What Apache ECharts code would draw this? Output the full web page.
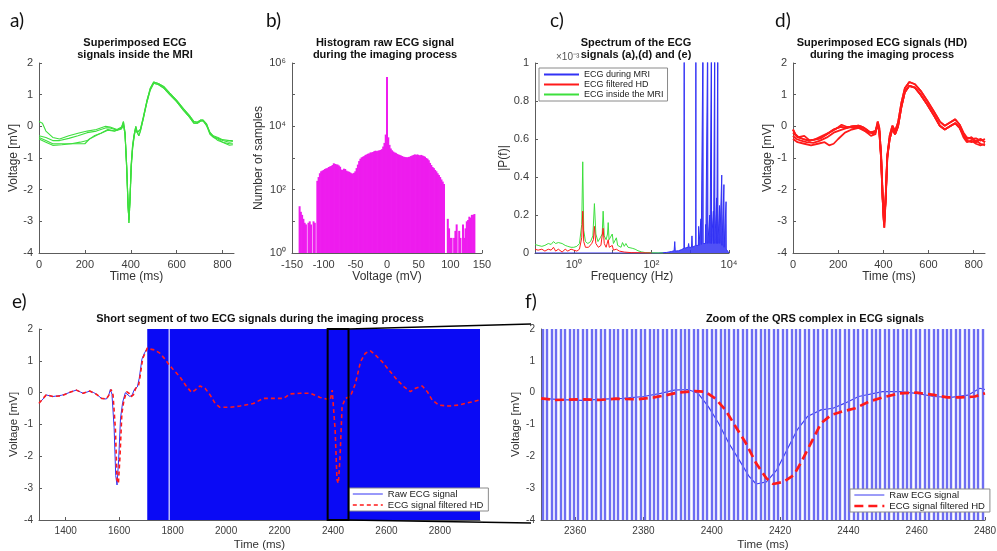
<!DOCTYPE html>
<html>
<head>
<meta charset="utf-8">
<title>ECG during MRI</title>
<script src="https://cdn.jsdelivr.net/npm/echarts@6/dist/echarts.min.js"></script>
<style>
  html, body { margin: 0; padding: 0; background: #fff; }
  #chart { width: 997px; height: 551px; }
</style>
</head>
<body>
<div id="chart"></div>
<script>
// ---------- values ----------

// a) superimposed beats inside the MRI (time ms, voltage mV)
const aBase1 = [[0,0.15],[15,0.1],[30,-0.15],[60,-0.35],[90,-0.4],[130,-0.3],[170,-0.22],[210,-0.15],[250,-0.1],[290,0.0],[310,-0.02],[340,-0.1],[360,-0.02]];
const aBase2 = [[0,-0.3],[30,-0.35],[60,-0.45],[90,-0.45],[130,-0.38],[170,-0.3],[210,-0.2],[250,-0.15],[290,-0.05],[310,-0.05],[340,-0.12],[360,-0.05]];
const aBase3 = [[0,-0.35],[30,-0.45],[60,-0.55],[100,-0.55],[140,-0.55],[180,-0.5],[210,-0.45],[240,-0.3],[270,-0.22],[300,-0.1],[330,-0.15],[360,-0.05]];
const aBase4 = [[0,-0.4],[30,-0.5],[60,-0.6],[100,-0.58],[140,-0.55],[180,-0.55],[200,-0.55],[220,-0.4],[260,-0.25],[300,-0.12],[330,-0.15],[360,-0.08]];
const aComplex1 = [[368,0.15],[375,-0.2],[382,-1.2],[388,-2.4],[392,-3.05],[397,-2.3],[402,-1.3],[408,-0.7],[415,-0.3],[422,-0.05],[428,-0.2],[435,-0.25],[442,-0.1],[455,0.3],[470,0.8],[485,1.2],[500,1.4],[520,1.35],[545,1.25],[570,1.05],[600,0.82],[630,0.55],[655,0.35],[675,0.15],[690,0.13],[705,0.2],[715,0.2],[730,0.08]];
const aComplex2 = [[368,0.05],[375,-0.25],[382,-1.3],[388,-2.5],[392,-2.95],[397,-2.2],[402,-1.2],[408,-0.6],[415,-0.25],[422,0.0],[428,-0.18],[435,-0.3],[442,-0.15],[455,0.25],[470,0.75],[485,1.15],[500,1.36],[520,1.32],[545,1.2],[570,1.0],[600,0.78],[630,0.5],[655,0.3],[675,0.1],[690,0.1],[705,0.17],[715,0.18],[730,0.03]];
const aTail1 = [[745,-0.2],[760,-0.3],[780,-0.35],[800,-0.42],[830,-0.45],[845,-0.45]];
const aTail2 = [[745,-0.25],[760,-0.35],[780,-0.4],[800,-0.5],[830,-0.55],[845,-0.55]];
const aTail3 = [[745,-0.22],[760,-0.33],[780,-0.45],[800,-0.5],[830,-0.6],[845,-0.58]];
const aTail4 = [[745,-0.18],[760,-0.32],[780,-0.38],[800,-0.45],[830,-0.5],[845,-0.48]];

// b) histogram of the raw signal, 2 mV bins starting at -138 mV
const histStart = -138;
const histBin = 2;
const histCounts = [
  30,20,16,12,9,8,0,9,10,8,0,10,9,0,
  190,250,330,380,400,420,450,470,480,520,540,560,600,680,650,630,620,580,530,430,
  420,460,450,400,380,370,350,330,320,340,380,480,620,800,950,1050,1100,1150,1250,1300,
  1350,1400,1500,1500,1550,1650,1700,1650,1700,1750,1800,1900,2300,3000,5500,
  360000,
  4500,2600,2000,1750,1600,1500,1450,1350,1300,1250,1200,1150,1100,1080,1050,1050,1080,
  1100,1150,1200,1250,1300,1250,1300,1250,1200,1250,1200,1150,1100,1000,950,850,700,
  600,520,480,420,380,330,290,250,210,180,150,
  0,0,12,6,3,3,0,3,5,8,0,5,3,0,8,3,6,10,11,14,13,16,16,17
];

// c) spectra, [frequency Hz, |P(f)| x 1e-3]
const spectrumMri = [[0.1,0],[150,0],[250,0.003],[330,0.008],[385,0.012],[400,0.06],[412,0.01],[500,0.012],[600,0.018],[690,0.025],[700,1.2],[710,0.025],[880,0.03],[910,0.05],[940,0.03],[1080,0.03],[1110,0.09],[1140,0.03],[1390,0.04],[1400,1.2],[1410,0.04],[1620,0.04],[1650,0.14],[1680,0.04],[1850,0.045],[1890,0.18],[1930,0.045],[2120,0.045],[2140,1.2],[2160,0.05],[2450,0.05],[2490,0.15],[2530,0.05],[2810,0.05],[2830,1.2],[2850,0.05],[3150,0.05],[3200,0.2],[3250,0.05],[3510,0.05],[3530,1.2],[3550,0.05],[3900,0.05],[3950,0.22],[4000,0.05],[4280,0.05],[4300,1.2],[4320,0.05],[4750,0.05],[4800,0.29],[4850,0.05],[5130,0.05],[5150,1.2],[5180,0.05],[5600,0.05],[5700,0.25],[5800,0.05],[6400,0.045],[6500,0.41],[6600,0.04],[7300,0.035],[7400,0.36],[7500,0.03],[8300,0.02],[8400,0.27],[8500,0.02],[9000,0.01],[10000,0]];
const spectrumFiltered = [[0.1,0.02],[0.12,0.015],[0.15,0.02],[0.18,0.01],[0.22,0.02],[0.26,0.015],[0.3,0.03],[0.34,0.01],[0.4,0.02],[0.45,0.025],[0.5,0.005],[0.6,0.02],[0.7,0.01],[0.85,0.02],[1.0,0.015],[1.2,0.01],[1.4,0.02],[1.6,0.08],[1.7,0.22],[1.8,0.06],[2.0,0.03],[2.4,0.03],[2.9,0.05],[3.2,0.07],[3.4,0.14],[3.7,0.05],[4.3,0.03],[5.0,0.04],[5.4,0.05],[5.7,0.13],[6.1,0.05],[6.8,0.03],[7.7,0.07],[8.2,0.03],[9.8,0.04],[10.5,0.015],[12.5,0.02],[15,0.01],[20,0.005],[30,0.002],[60,0.001],[100,0]];
const spectrumInside = [[0.1,0.045],[0.12,0.04],[0.15,0.035],[0.18,0.04],[0.22,0.05],[0.26,0.045],[0.3,0.06],[0.34,0.05],[0.4,0.055],[0.45,0.065],[0.5,0.05],[0.6,0.04],[0.7,0.035],[0.85,0.03],[1.0,0.03],[1.2,0.035],[1.4,0.05],[1.6,0.15],[1.7,0.48],[1.8,0.12],[2.0,0.06],[2.3,0.05],[2.7,0.06],[3.1,0.09],[3.4,0.26],[3.7,0.1],[4.2,0.06],[4.8,0.08],[5.4,0.1],[5.7,0.22],[6.1,0.09],[6.8,0.07],[7.4,0.1],[7.7,0.16],[8.1,0.07],[9.0,0.06],[9.8,0.1],[10.5,0.05],[11.5,0.06],[12.5,0.08],[13.5,0.04],[15,0.05],[16.5,0.03],[18,0.055],[20,0.035],[22,0.05],[25,0.03],[28,0.04],[32,0.025],[38,0.02],[45,0.012],[55,0.006],[70,0.002],[100,0.001],[200,0]];

// d) superimposed HD filtered beats
const dBase1 = [[0,-0.1],[10,-0.25],[25,-0.35],[45,-0.4],[70,-0.45],[95,-0.42],[120,-0.38],[150,-0.25],[180,-0.1],[210,-0.02],[235,-0.05],[260,0.0],[290,0.02],[315,-0.05],[340,-0.2],[365,-0.15]];
const dBase2 = [[0,-0.3],[15,-0.4],[35,-0.45],[60,-0.5],[90,-0.52],[120,-0.45],[150,-0.35],[180,-0.2],[210,-0.12],[240,-0.05],[270,0.0],[300,-0.05],[330,-0.2],[365,-0.2]];
const dBase3 = [[0,-0.4],[20,-0.5],[50,-0.55],[80,-0.6],[110,-0.55],[140,-0.5],[160,-0.6],[180,-0.55],[200,-0.4],[230,-0.2],[260,-0.1],[290,-0.05],[320,-0.15],[345,-0.3],[365,-0.25]];
const dBase4 = [[0,-0.2],[20,-0.35],[50,-0.3],[75,-0.45],[100,-0.4],[130,-0.3],[160,-0.2],[190,-0.08],[215,0.05],[240,-0.02],[270,-0.05],[300,0.0],[330,-0.12],[355,-0.25],[365,-0.15]];
const dComplex1 = [[375,0.15],[382,-0.05],[390,-0.9],[397,-2.2],[404,-3.2],[411,-2.2],[418,-0.9],[428,-0.3],[440,0.02],[452,-0.15],[465,0.12],[480,0.75],[495,1.2],[515,1.4],[540,1.33],[565,1.12],[595,0.8],[625,0.45],[650,0.15],[672,0.02],[695,0.12],[718,0.22],[738,0.05]];
const dComplex2 = [[375,0.05],[382,-0.15],[390,-1.0],[397,-2.3],[403,-3.1],[410,-2.3],[417,-1.0],[428,-0.4],[440,-0.08],[452,-0.25],[465,0.0],[480,0.62],[495,1.08],[515,1.28],[540,1.22],[565,1.0],[595,0.68],[625,0.33],[650,0.02],[672,-0.1],[695,0.0],[718,0.1],[738,-0.05]];
const dTail1 = [[755,-0.2],[770,-0.35],[790,-0.4],[810,-0.38],[830,-0.45],[850,-0.4]];
const dTail2 = [[755,-0.3],[770,-0.45],[790,-0.5],[810,-0.45],[830,-0.55],[850,-0.6]];
const dTail3 = [[755,-0.25],[770,-0.4],[790,-0.35],[810,-0.5],[830,-0.4],[850,-0.5]];
const dTail4 = [[755,-0.35],[770,-0.5],[790,-0.45],[810,-0.55],[830,-0.6],[850,-0.55]];

// e) raw signal before saturation, HD filtered signal, saturated spans
const eRaw = [[1300,-0.33],[1315,-0.2],[1327,-0.07],[1340,-0.1],[1352,-0.12],[1370,-0.1],[1385,-0.08],[1400,-0.04],[1421,0.03],[1440,0.08],[1455,0.02],[1465,-0.02],[1480,0.02],[1490,0.05],[1505,0.0],[1515,-0.05],[1534,-0.18],[1552,-0.2],[1560,-0.1],[1567,0.1],[1573,-0.05],[1581,-1.1],[1587,-2.6],[1592,-2.9],[1598,-2.1],[1605,-0.8],[1613,-0.3],[1623,0.0],[1630,0.02],[1640,-0.12],[1648,-0.08],[1658,0.12],[1668,0.18],[1675,0.45],[1685,1.05],[1695,1.25],[1704,1.38]];
const eFiltered = [[1300,-0.33],[1327,-0.07],[1352,-0.12],[1384,-0.1],[1421,0.03],[1440,0.08],[1465,-0.02],[1490,0.05],[1515,-0.05],[1534,-0.18],[1552,-0.2],[1562,-0.07],[1570,0.1],[1577,-0.07],[1586,-1.17],[1592,-2.74],[1597,-2.85],[1603,-2.0],[1610,-0.65],[1618,-0.23],[1628,0.03],[1637,-0.02],[1645,-0.12],[1653,-0.07],[1662,0.14],[1672,0.2],[1678,0.5],[1688,1.08],[1697,1.24],[1705,1.4],[1715,1.37],[1734,1.34],[1752,1.24],[1771,1.06],[1787,0.87],[1802,0.73],[1827,0.5],[1852,0.19],[1871,0.01],[1884,0.08],[1902,0.21],[1921,0.14],[1940,-0.07],[1959,-0.34],[1977,-0.46],[2015,-0.46],[2052,-0.42],[2102,-0.34],[2140,-0.18],[2177,-0.18],[2215,-0.18],[2240,-0.04],[2277,-0.02],[2315,-0.02],[2352,-0.15],[2390,-0.23],[2397,0.08],[2408,-1.17],[2415,-2.74],[2420,-2.85],[2426,-2.1],[2434,-0.44],[2446,-0.18],[2465,-0.12],[2484,0.29],[2503,0.97],[2521,1.24],[2540,1.31],[2559,1.18],[2584,0.97],[2609,0.71],[2640,0.4],[2665,0.19],[2690,0.03],[2709,0.14],[2734,0.21],[2753,0.03],[2771,-0.23],[2796,-0.39],[2834,-0.42],[2871,-0.39],[2909,-0.31],[2950,-0.23]];
const eSaturated = [[1705, 1785], [1789, 2950]];
const zoomWindow = [2380, 2458];

// f) zoom on the QRS complex
const fRaw = [[2350,-0.18],[2356,-0.22],[2362,-0.24],[2368,-0.2],[2374,-0.18],[2380,-0.12],[2385,-0.02],[2389,0.08],[2393,0.1],[2396,-0.02],[2399,-0.44],[2402,-0.96],[2405,-1.59],[2408,-2.11],[2411,-2.64],[2413,-2.87],[2416,-2.8],[2419,-2.43],[2422,-1.8],[2425,-1.17],[2428,-0.75],[2432,-0.54],[2435.5,-0.49],[2439,-0.33],[2443,-0.12],[2450,0.03],[2455,0.03],[2460,-0.02],[2465,-0.12],[2470,-0.15],[2475,-0.08],[2478.5,0.14],[2480,0.1]];
const fFiltered = [[2350,-0.18],[2354,-0.23],[2362,-0.21],[2367,-0.23],[2372,-0.19],[2378,-0.21],[2383,-0.15],[2387,-0.07],[2390,0.0],[2395,0.05],[2398,0.03],[2401,-0.18],[2404,-0.54],[2407,-1.07],[2410,-1.59],[2413,-2.22],[2416,-2.69],[2418,-2.87],[2421,-2.8],[2424,-2.59],[2426,-2.22],[2429,-1.59],[2432,-0.96],[2435,-0.7],[2438,-0.6],[2442,-0.49],[2446,-0.28],[2450,-0.15],[2455,-0.02],[2460,0.0],[2465,-0.07],[2469,-0.15],[2473,-0.15],[2477,-0.12],[2480,-0.02]];
// gradient artefact spikes in the raw signal (ms)
const spikeTimes = [
  2350.5,2351.8,2353.1,2354.4,2355.7,2357.0,2358.3,2359.6,2360.9,2362.2,
  2363.5,2364.8,2366.1,2367.4,2368.7,2370.0,2371.3,2372.6,2373.9,2375.2,
  2376.5,2377.8,2379.1,2380.4,2381.7,2383.0,2384.3,2385.6,2386.9,2388.2,
  2389.5,2390.8,2392.1,2393.4,2394.7,2396.0,2397.3,2398.6,2399.9,2401.2,
  2402.5,2403.8,2405.1,2406.4,2407.7,2409.0,2410.3,2411.6,2412.9,2414.2,
  2415.5,2416.8,2418.1,2419.4,2420.7,2422.0,2423.3,2424.6,2425.9,2427.2,
  2428.5,2429.8,2431.1,2432.4,2433.7,2435.0,2436.3,2437.6,2438.9,2440.2,
  2441.5,2442.8,2444.1,2445.4,2446.7,2448.0,2449.3,2450.6,2451.9,2453.2,
  2454.5,2455.8,2457.1,2458.4,2459.7,2461.0,2462.3,2463.6,2464.9,2466.2,
  2467.5,2468.8,2470.1,2471.4,2472.7,2474.0,2475.3,2476.6,2477.9,2479.2
];

// ---------- chart ----------
const chart = echarts.init(document.getElementById('chart'));

const SUP = { '-': '\u207B', '0': '\u2070', '1': '\u00B9', '2': '\u00B2', '3': '\u00B3', '4': '\u2074', '5': '\u2075', '6': '\u2076' };
function powerLabel(v) {
  const e = Math.round(Math.log10(v));
  if (e % 2 !== 0) return '';
  return '10' + String(e).split('').map(c => SUP[c]).join('');
}
const plain = v => String(v);

function axis(gridIndex, opts) {
  const o = opts || {};
  return Object.assign({
    gridIndex: gridIndex,
    type: 'value',
    nameLocation: 'middle',
    nameTextStyle: { color: '#333', fontSize: 12 },
    splitLine: { show: false },
  }, o, {
    axisLine: Object.assign({ onZero: false, lineStyle: { color: '#5c5c5c', width: 1 } }, o.axisLine),
    axisTick: Object.assign({ inside: true, length: 3, lineStyle: { color: '#5c5c5c' } }, o.axisTick),
    axisLabel: Object.assign({ color: '#3c3c3c', fontSize: 11, margin: 6 }, o.axisLabel),
  });
}

function line(idx, data, color, width, extra) {
  return Object.assign({
    type: 'line', xAxisIndex: idx, yAxisIndex: idx, data: data,
    symbol: 'none', showSymbol: false, animation: false, silent: true,
    lineStyle: { color: color, width: width }, itemStyle: { color: color },
  }, extra);
}

const GREEN = '#3ddf3d', RED = '#ff1a1a', BLUE = '#3232f5', MAGENTA = '#ee1cee';

const aBeats = [
  [].concat(aBase1, aComplex1, aTail1),
  [].concat(aBase2, aComplex2, aTail2),
  [].concat(aBase3, aComplex1, aTail3),
  [].concat(aBase4, aComplex2, aTail4),
];
const dBeats = [
  [].concat(dBase1, dComplex1, dTail1),
  [].concat(dBase2, dComplex2, dTail2),
  [].concat(dBase3, dComplex1, dTail3),
  [].concat(dBase4, dComplex2, dTail4),
  [].concat(dBase1, dComplex2, dTail3),
];
const histData = histCounts.map((c, i) => [histStart + i * histBin, c > 0 ? c : null]);

const series = [];
aBeats.forEach(b => series.push(line(0, b, GREEN, 1.1)));
series.push({
  type: 'bar', xAxisIndex: 1, yAxisIndex: 1, data: histData, barWidth: 2,
  itemStyle: { color: MAGENTA }, animation: false, silent: true,
});
series.push(line(2, spectrumMri, BLUE, 1, { name: 'ECG during MRI', areaStyle: { color: BLUE, opacity: 0.85 } }));
series.push(line(2, spectrumInside, GREEN, 1, { name: 'ECG inside the MRI' }));
series.push(line(2, spectrumFiltered, RED, 1, { name: 'ECG filtered HD' }));
dBeats.forEach(b => series.push(line(3, b, RED, 1.8)));
series.push(line(4, eRaw, BLUE, 1, {
  name: 'Raw ECG signal',
  markArea: {
    silent: true, animation: false,
    itemStyle: { color: '#0a0af5', opacity: 1 },
    data: eSaturated.map(s => [{ xAxis: s[0] }, { xAxis: s[1] }]),
  },
}));
series.push(line(4, eFiltered, RED, 1.6, { name: 'ECG signal filtered HD', z: 10, lineStyle: { color: RED, width: 1.6, type: [4, 3] } }));
series.push(line(5, fRaw, '#3a3af0', 1.2, {
  name: 'Raw ECG signal',
  markLine: {
    silent: true, animation: false, symbol: ['none', 'none'],
    label: { show: false },
    lineStyle: { color: '#6e6ef2', width: 2.4, type: 'solid', opacity: 1 },
    emphasis: { disabled: true },
    data: spikeTimes.map(t => ({ xAxis: t })),
  },
}));
series.push(line(5, fFiltered, RED, 2.7, { name: 'ECG signal filtered HD', z: 10, lineStyle: { color: RED, width: 2.7, type: [9, 5] } }));

const titleStyle = { fontSize: 11, fontWeight: 'bold', color: '#111', lineHeight: 12 };
const letterStyle = { fontSize: 19, fontWeight: 'normal', color: '#111', fontFamily: 'Lato' };
function title(text, left, top, style) {
  return { text: text, left: left, top: top, textAlign: style === letterStyle ? 'left' : 'center', padding: 0, textStyle: style };
}

// legend icons: plain line, no symbol marker
const noMarker = { color: 'transparent', borderColor: 'transparent', borderWidth: 0, opacity: 0 };
const legendBase = {
  orient: 'vertical', selectedMode: false, backgroundColor: '#fff', z: 50,
  borderColor: '#8a8a8a', borderWidth: 1, borderRadius: 0, itemGap: 1,
  itemStyle: noMarker,
};

const option = {
  animation: false,
  textStyle: { fontFamily: 'Liberation Sans, Arial, sans-serif' },
  title: [
    title('a)', 10, 11, letterStyle),
    title('b)', 266, 11, letterStyle),
    title('c)', 550, 11, letterStyle),
    title('d)', 775, 11, letterStyle),
    title('e)', 12, 292, letterStyle),
    title('f)', 525, 292, letterStyle),
    title('Superimposed ECG\nsignals inside the MRI', 135, 37, titleStyle),
    title('Histogram raw ECG signal\nduring the imaging process', 385, 37, titleStyle),
    title('Spectrum of the ECG\nsignals (a),(d) and (e)', 636, 37, titleStyle),
    title('Superimposed ECG signals (HD)\nduring the imaging process', 882, 37, titleStyle),
    title('Short segment of two ECG signals during the imaging process', 260, 313, titleStyle),
    title('Zoom of the QRS complex in ECG signals', 815, 313, titleStyle),
    { text: '\u00D710\u207B\u00B3', left: 556, top: 52, padding: 0, textStyle: { fontSize: 10, fontWeight: 'normal', color: '#555' } },
  ],
  grid: [
    { left: 39, top: 63, width: 195, height: 190, outerBoundsMode: 'none' },
    { left: 292, top: 63, width: 190, height: 190, outerBoundsMode: 'none' },
    { left: 535, top: 63, width: 194, height: 190, outerBoundsMode: 'none' },
    { left: 793, top: 63, width: 192, height: 190, outerBoundsMode: 'none' },
    { left: 39, top: 329, width: 441, height: 191, outerBoundsMode: 'none' },
    { left: 541, top: 329, width: 444, height: 191, outerBoundsMode: 'none' },
  ],
  xAxis: [
    axis(0, { min: 0, max: 850, interval: 200, name: 'Time (ms)', nameGap: 18, axisLabel: { showMaxLabel: false } }),
    axis(1, { min: -150, max: 150, interval: 50, name: 'Voltage (mV)', nameGap: 18 }),
    axis(2, { type: 'log', logBase: 10, min: 0.1, max: 10000, name: 'Frequency (Hz)', nameGap: 18, axisLabel: { formatter: powerLabel } }),
    axis(3, { min: 0, max: 850, interval: 200, name: 'Time (ms)', nameGap: 18, axisLabel: { showMaxLabel: false } }),
    axis(4, { min: 1300, max: 2950, splitNumber: 8, minInterval: 200, maxInterval: 200, name: 'Time (ms)', nameGap: 19,
      nameTextStyle: { color: '#333', fontSize: 11.5 }, axisLabel: { fontSize: 10, formatter: plain, showMinLabel: false, showMaxLabel: false } }),
    axis(5, { min: 2350, max: 2480, splitNumber: 6, minInterval: 20, maxInterval: 20, name: 'Time (ms)', nameGap: 19,
      nameTextStyle: { color: '#333', fontSize: 11.5 }, axisLabel: { fontSize: 10, formatter: plain, showMinLabel: false } }),
  ],
  yAxis: [
    axis(0, { min: -4, max: 2, interval: 1, name: 'Voltage [mV]', nameGap: 16 }),
    axis(1, { type: 'log', logBase: 10, min: 1, max: 1000000, name: 'Number of samples', nameGap: 22, axisLabel: { formatter: powerLabel } }),
    axis(2, { min: 0, max: 1, interval: 0.2, name: '|P(f)|', nameGap: 19 }),
    axis(3, { min: -4, max: 2, interval: 1, name: 'Voltage [mV]', nameGap: 15 }),
    axis(4, { min: -4, max: 2, interval: 1, name: 'Voltage [mV]', nameGap: 15,
      nameTextStyle: { color: '#333', fontSize: 11.5 }, axisLabel: { fontSize: 10 } }),
    axis(5, { min: -4, max: 2, interval: 1, name: 'Voltage [mV]', nameGap: 15,
      nameTextStyle: { color: '#333', fontSize: 11.5 }, axisLabel: { fontSize: 10 } }),
  ],
  legend: [
    Object.assign({}, legendBase, {
      left: 539, top: 68, itemWidth: 35, itemHeight: 8, padding: [2, 4, 2, 4],
      textStyle: { fontSize: 9, color: '#222', lineHeight: 9 },
      data: ['ECG during MRI', 'ECG filtered HD', 'ECG inside the MRI'].map(n => ({ name: n, itemStyle: noMarker })),
    }),
    Object.assign({}, legendBase, {
      left: 349, top: 488, itemWidth: 30, itemHeight: 10, padding: [1, 5, 1, 3],
      textStyle: { fontSize: 9.5, color: '#222', lineHeight: 10 },
      data: [
        { name: 'Raw ECG signal', itemStyle: noMarker, lineStyle: { color: BLUE, width: 1 } },
        { name: 'ECG signal filtered HD', itemStyle: noMarker, lineStyle: { color: RED, width: 1.6, type: [4, 3] } },
      ],
    }),
    Object.assign({}, legendBase, {
      left: 850, top: 489, itemWidth: 30, itemHeight: 10, padding: [1, 5, 1, 3],
      textStyle: { fontSize: 9.5, color: '#222', lineHeight: 10 },
      data: [
        { name: 'Raw ECG signal', itemStyle: noMarker, lineStyle: { color: '#3a3af0', width: 1 } },
        { name: 'ECG signal filtered HD', itemStyle: noMarker, lineStyle: { color: RED, width: 2.7, type: [9, 5] } },
      ],
    }),
  ],
  series: series,
};

chart.setOption(option);

// zoom box in e) and its connection to f), placed through the axes' own scales
const boxTL = chart.convertToPixel({ gridIndex: 4 }, [zoomWindow[0], 2]);
const boxBR = chart.convertToPixel({ gridIndex: 4 }, [zoomWindow[1], -4]);
const fTop = chart.convertToPixel({ gridIndex: 5 }, [2350, 2]);
const fBot = chart.convertToPixel({ gridIndex: 5 }, [2350, -4]);
chart.setOption({
  graphic: [
    { type: 'rect', z: 100, silent: true,
      shape: { x: boxTL[0], y: boxTL[1], width: boxBR[0] - boxTL[0], height: boxBR[1] - boxTL[1] },
      style: { fill: 'transparent', stroke: '#000', lineWidth: 2 } },
    { type: 'line', z: 100, silent: true,
      shape: { x1: boxBR[0], y1: boxTL[1], x2: fTop[0] - 10, y2: fTop[1] - 5 },
      style: { stroke: '#000', lineWidth: 1.5 } },
    { type: 'line', z: 100, silent: true,
      shape: { x1: boxBR[0], y1: boxBR[1], x2: fBot[0] - 10, y2: fBot[1] + 3 },
      style: { stroke: '#000', lineWidth: 1.5 } },
  ],
});

window.addEventListener('resize', function () {
  chart.resize();
});
</script>
</body>
</html>
